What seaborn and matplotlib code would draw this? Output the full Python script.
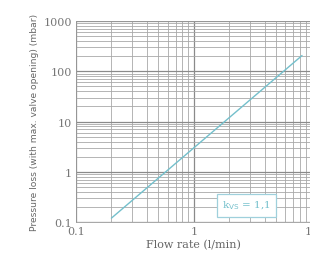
import pandas as pd
import matplotlib.pyplot as plt
import seaborn as sns
from matplotlib.ticker import LogLocator, FixedLocator, FixedFormatter, NullFormatter

# kvs = 1.1 curve, two end points on log-log axes
flow_lpm = [0.2, 8.3]
pressure_mbar = [0.12, 205]
x_ticks = [0.1, 1, 10]
x_labels = ["0.1", "1", "10"]
y_ticks = [0.1, 1, 10, 100, 1000]
y_labels = ["0.1", "1", "10", "100", "1000"]

df = pd.DataFrame({"flow": flow_lpm, "dp": pressure_mbar})

sns.set_style("white")
plt.rcParams["font.family"] = ["DejaVu Serif"]

fig = plt.figure(figsize=(3.1, 2.55), dpi=100)
ax = fig.add_axes([0.245, 0.125, 0.76, 0.789])

sns.lineplot(data=df, x="flow", y="dp", ax=ax, color="#74c0cc", linewidth=1.0)

ax.set_xscale("log")
ax.set_yscale("log")
ax.set_xlim(0.1, 10)
ax.set_ylim(0.1, 1000)

ax.xaxis.set_major_locator(FixedLocator(x_ticks))
ax.xaxis.set_major_formatter(FixedFormatter(x_labels))
ax.yaxis.set_major_locator(FixedLocator(y_ticks))
ax.yaxis.set_major_formatter(FixedFormatter(y_labels))
ax.xaxis.set_minor_locator(LogLocator(base=10, subs=range(2, 10)))
ax.yaxis.set_minor_locator(LogLocator(base=10, subs=range(2, 10)))
ax.xaxis.set_minor_formatter(NullFormatter())
ax.yaxis.set_minor_formatter(NullFormatter())

ax.grid(which="major", color="#8a8a8a", linewidth=0.9)
ax.grid(which="minor", color="#a8a8a8", linewidth=0.6)
ax.set_axisbelow(True)
ax.tick_params(which="both", length=0, labelsize=8, colors="#777777", pad=3)

for s in ax.spines.values():
    s.set_color("#999999")
    s.set_linewidth(0.6)

ax.set_xlabel("Flow rate (l/min)", fontsize=8, color="#666666", labelpad=2)
ax.set_ylabel("Pressure loss (with max. valve opening) (mbar)", fontsize=6.6,
              color="#666666", family=["Liberation Sans Narrow", "DejaVu Sans"], labelpad=3)

ax.text(0.725, 0.085, r"k$_{\mathrm{VS}}$ = 1,1", transform=ax.transAxes,
        fontsize=7.5, color="#74c0cc", ha="center", va="center",
        bbox=dict(boxstyle="square,pad=0.5", fc="white", ec="#9fd0dc", lw=0.9))

fig.savefig("out.png", dpi=100)
